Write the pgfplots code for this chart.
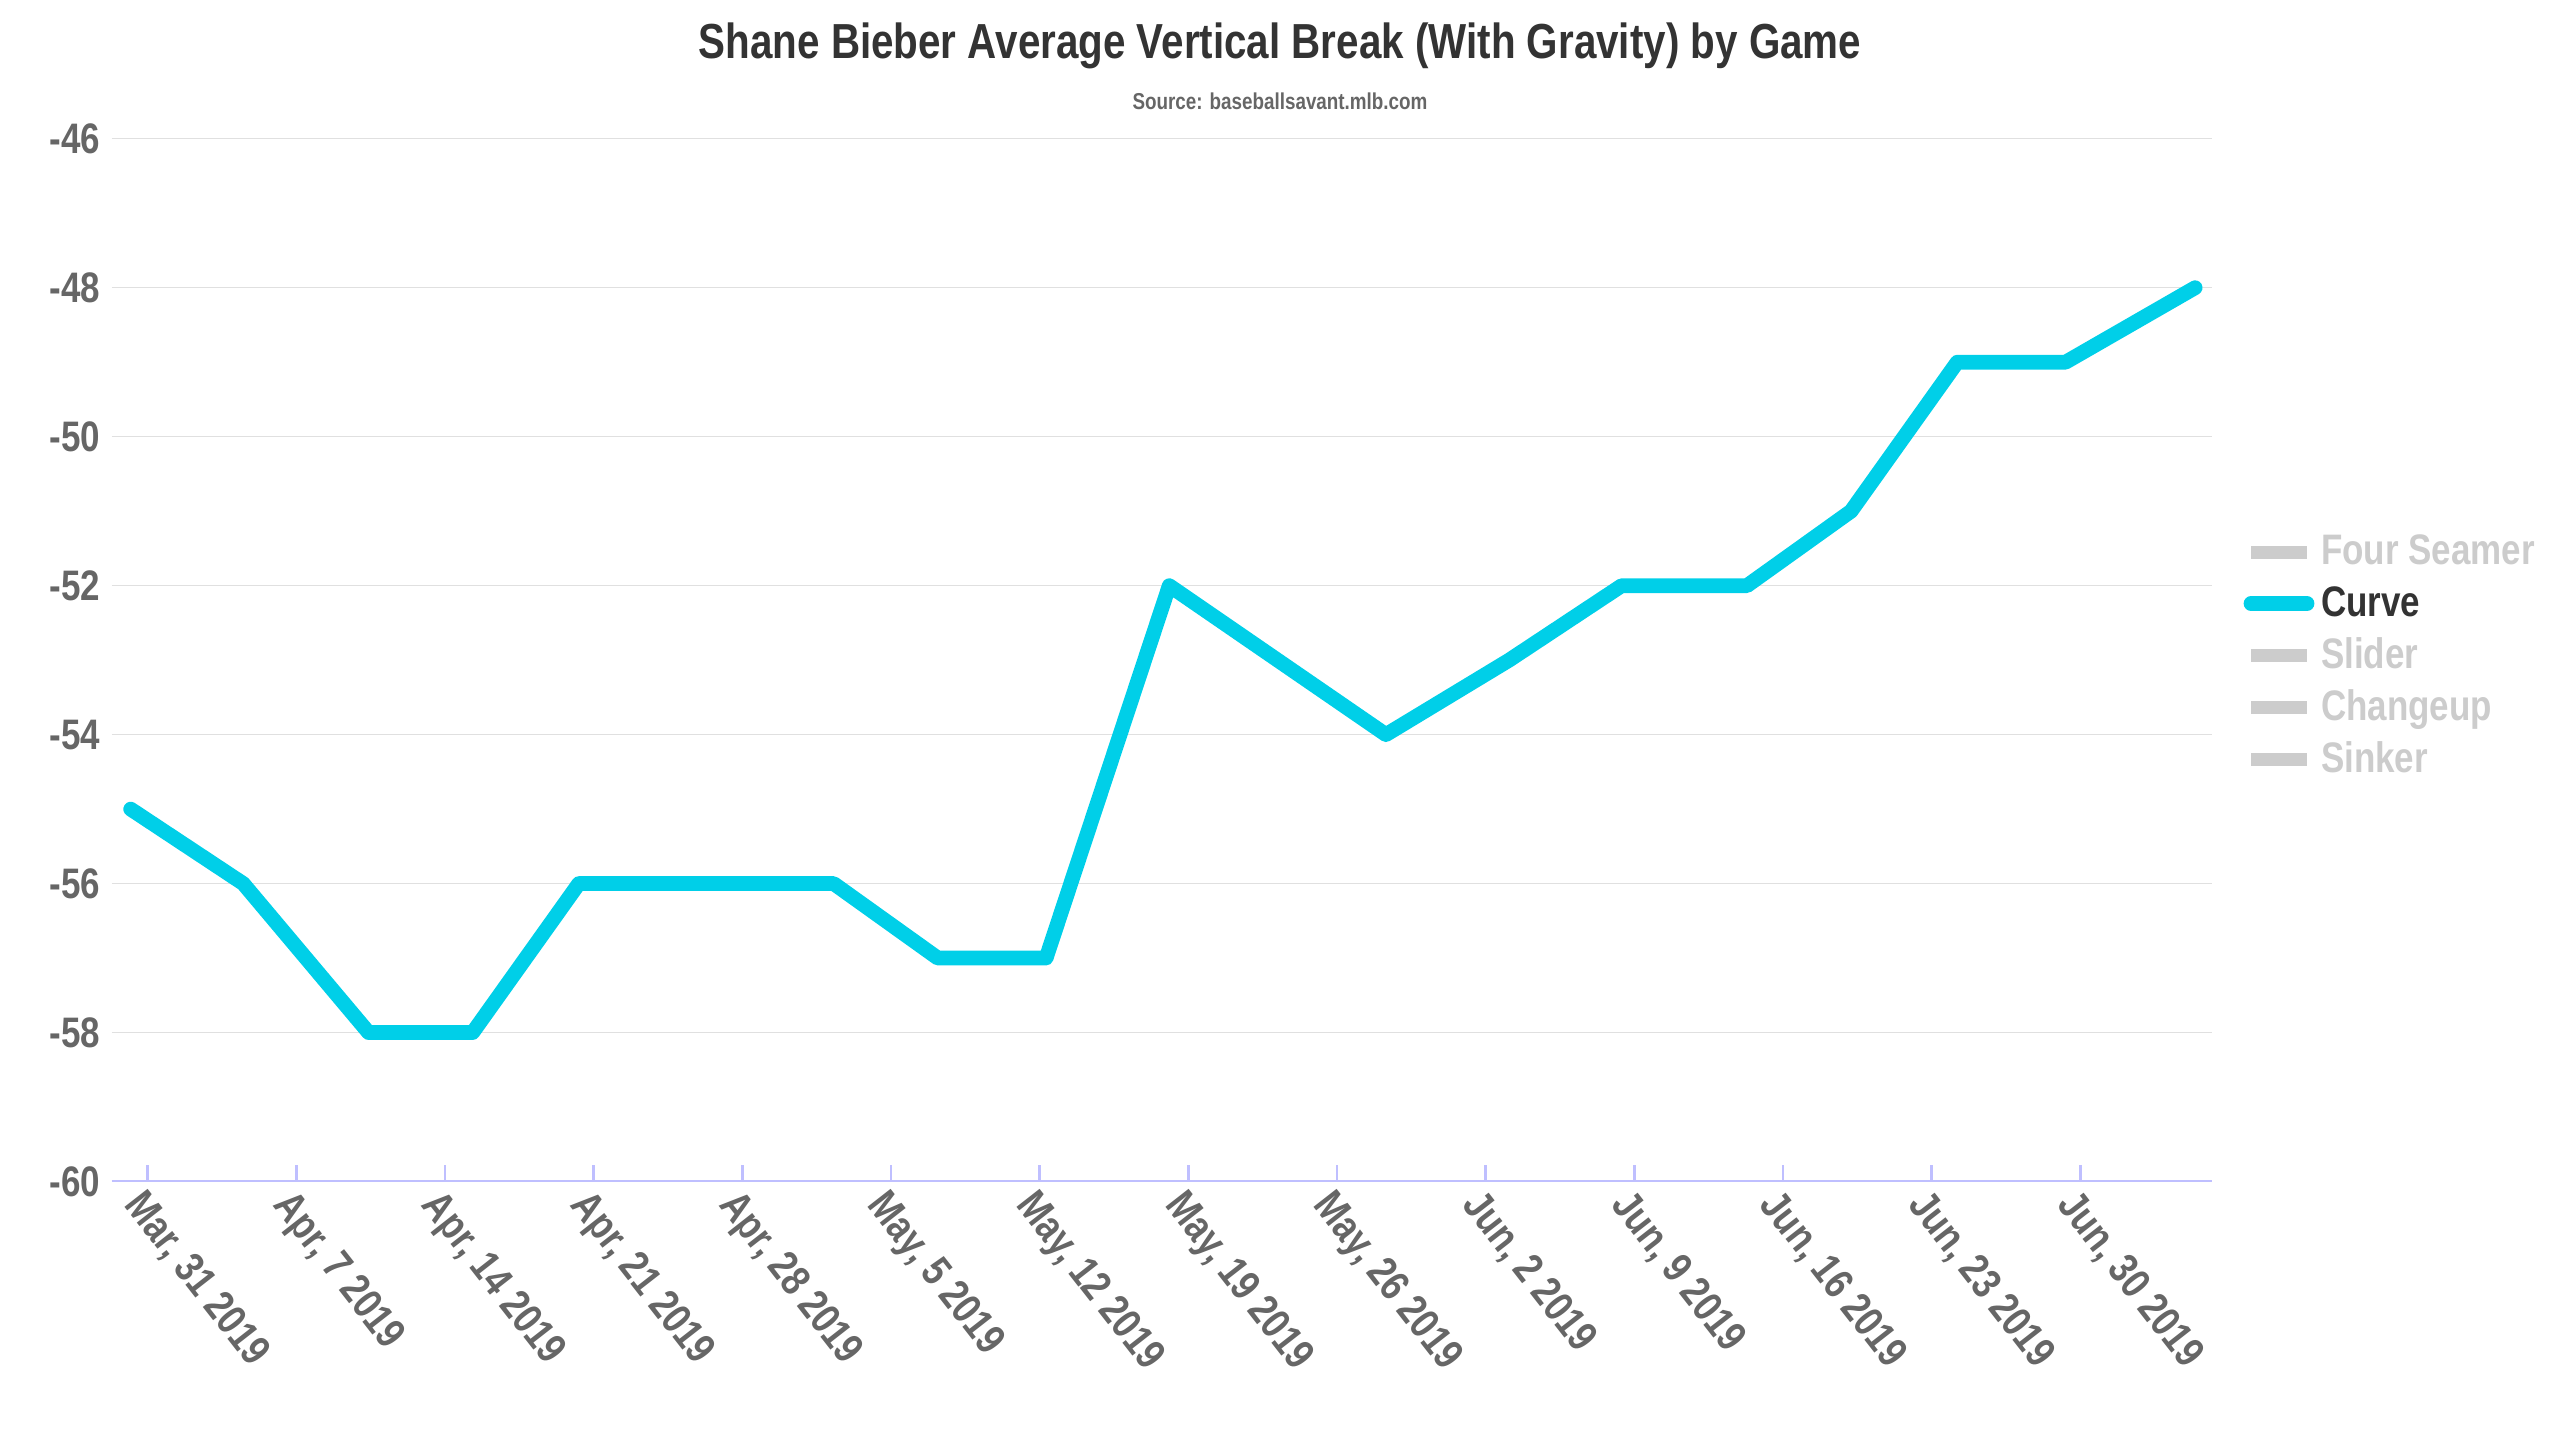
\documentclass[border=0pt]{standalone}
\usepackage{pgfplots}
\pgfplotsset{compat=1.18}
\usepackage{fontspec}
\setmainfont[FakeStretch=0.82]{Liberation Sans}
\definecolor{curve}{HTML}{00CFE8}
\definecolor{tx}{HTML}{666666}
\definecolor{hid}{HTML}{CCCCCC}
\begin{document}
\begin{tikzpicture}
\useasboundingbox (-34pt,-80pt) rectangle (746pt,360pt);
\begin{axis}[
  at={(0,0)}, anchor=south west, scale only axis,
  width=640pt, height=320pt,
  xmin=-1.7, xmax=97.2, ymin=-60, ymax=-45.9,
  axis line style={draw=none},
  axis x line*=bottom, axis y line*=left,
  ytick={-60,-58,...,-46},
  ymajorgrids, grid style={draw=black!12},
  xtick={0,7,...,91},
  xticklabels={{Mar, 31 2019},{Apr, 7 2019},{Apr, 14 2019},{Apr, 21 2019},{Apr, 28 2019},{May, 5 2019},{May, 12 2019},{May, 19 2019},{May, 26 2019},{Jun, 2 2019},{Jun, 9 2019},{Jun, 16 2019},{Jun, 23 2019},{Jun, 30 2019}},
  xticklabel style={rotate=-52, anchor=north west, font=\bfseries\fontsize{13}{13}\selectfont, text=tx, inner sep=1pt},
  yticklabel style={font=\bfseries\fontsize{13}{13}\selectfont, text=tx},
  /pgf/number format/assume math mode=true,
  x tick style={draw=blue!25, thick}, major tick length=5pt,
  xtick pos=bottom, ytick style={draw=none},
  legend style={at={(1.01,0.5)}, anchor=west, draw=none, fill=none, font=\bfseries\fontsize{13}{15}\selectfont, row sep=1pt},
  legend cell align=left,
]
\draw[blue!25, thick] (axis cs:-1.7,-60) -- (axis cs:97.2,-60);
\addlegendimage{hid, line width=4pt}
\addlegendentry{\textcolor{hid}{Four Seamer}}
\addplot[curve, line width=4.5pt, line join=round, line cap=round] coordinates {
(-0.8,-55) (4.5,-56) (10.4,-58) (15.3,-58) (20.3,-56) (26.3,-56) (32.3,-56)
(37.2,-57) (42.3,-57) (48.1,-52) (58.3,-54) (64.1,-53) (69.4,-52) (75.3,-52)
(80.2,-51) (85.2,-49) (90.3,-49) (96.4,-48)};
\addlegendentry{\textcolor{black!80}{Curve}}
\addlegendimage{hid, line width=4pt}
\addlegendentry{\textcolor{hid}{Slider}}
\addlegendimage{hid, line width=4pt}
\addlegendentry{\textcolor{hid}{Changeup}}
\addlegendimage{hid, line width=4pt}
\addlegendentry{\textcolor{hid}{Sinker}}
\end{axis}
\node[font=\bfseries\fontsize{15}{15}\selectfont, text=black!80] at (356pt,346pt) {Shane Bieber Average Vertical Break (With Gravity) by Game};
\node[font=\bfseries\fontsize{7}{7}\selectfont, text=tx] at (356pt,329pt) {Source: baseballsavant.mlb.com};
\end{tikzpicture}
\end{document}
